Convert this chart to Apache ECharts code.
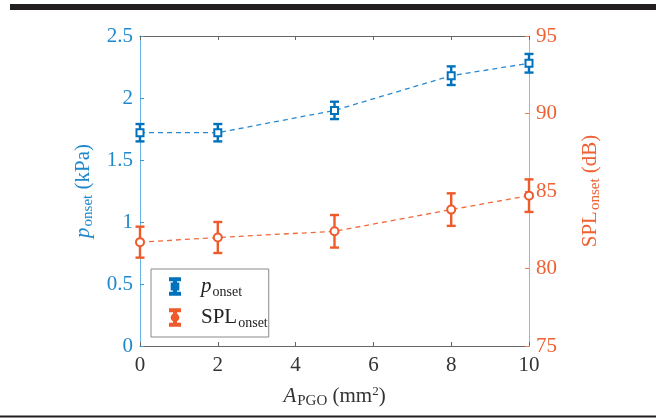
<!DOCTYPE html>
<html>
<head>
<meta charset="utf-8">
<script src="https://cdn.jsdelivr.net/npm/echarts@6/dist/echarts.min.js"></script>
<style>
  html, body { margin: 0; padding: 0; background: #fff; }
  #chart { width: 656px; height: 418px; }
</style>
</head>
<body>
<div id="chart"></div>
<script>
// data
const area = [0, 2, 5, 8, 10]            // A_PGO (mm^2)
const pOnset = [1.72, 1.72, 1.90, 2.18, 2.28]  // kPa
const pErr = [0.07, 0.07, 0.07, 0.075, 0.075]
const splOnset = [81.7, 82.0, 82.4, 83.8, 84.7] // dB
const splErr = [1.0, 1.0, 1.05, 1.05, 1.05]

const BLUE = '#0072bd'
const ORANGE = '#ee5a2a'
const FONT = 'Liberation Serif'

const chart = echarts.init(document.getElementById('chart'))

function errSeries (vals, errs, color, yIndex) {
  return {
    type: 'custom',
    yAxisIndex: yIndex,
    silent: true,
    z: 3,
    data: area.map((x, i) => [x, vals[i] - errs[i], vals[i] + errs[i]]),
    renderItem (params, api) {
      const lo = api.coord([api.value(0), api.value(1)])
      const hi = api.coord([api.value(0), api.value(2)])
      const w = 4.5
      const st = { stroke: color, lineWidth: 2.4 }
      return {
        type: 'group',
        children: [
          { type: 'line', shape: { x1: lo[0], y1: lo[1], x2: hi[0], y2: hi[1] }, style: st },
          { type: 'line', shape: { x1: lo[0] - w, y1: lo[1], x2: lo[0] + w, y2: lo[1] }, style: st },
          { type: 'line', shape: { x1: hi[0] - w, y1: hi[1], x2: hi[0] + w, y2: hi[1] }, style: st }
        ]
      }
    }
  }
}

const iconBar = 'M4,0H16V2.4H4Z M8.8,2.4H11.2V17.6H8.8Z M4,17.6H16V20H4Z '
const iconP = 'path://' + iconBar + 'M6,6.5H14V13.5H6Z'
const iconS = 'path://' + iconBar + 'M10,6A4,4 0 1,1 9.99,6Z'

const richText = {
  i: { fontFamily: FONT, fontStyle: 'italic', fontSize: 21 },
  n: { fontFamily: FONT, fontSize: 21 },
  s: { fontFamily: FONT, fontSize: 15, padding: [10, 0, 0, 1] },
  sup: { fontFamily: FONT, fontSize: 13, padding: [0, 0, 9, 0] }
}
const legendRich = Object.assign({}, richText, {
  s: { fontFamily: FONT, fontSize: 14, padding: [11, 0, 0, 1] }
})

chart.setOption({
  animation: false,
  grid: { left: 140, right: 127, top: 36, bottom: 72 },
  graphic: [
    { type: 'rect', shape: { x: 10, y: 4, width: 646, height: 6 }, style: { fill: '#231f20' } },
    { type: 'rect', shape: { x: 0, y: 415.5, width: 656, height: 2 }, style: { fill: '#231f20' } }
  ],
  legend: {
    left: 151,
    top: 269,
    orient: 'vertical',
    padding: [7, 1, 7, 18],
    itemGap: 8,
    itemWidth: 10,
    itemHeight: 24,
    borderColor: '#8a8a8a',
    borderWidth: 1,
    backgroundColor: '#fff',
    data: [
      { name: 'p', icon: iconP, itemStyle: { color: BLUE } },
      { name: 'SPL', icon: iconS, itemStyle: { color: ORANGE } }
    ],
    formatter (name) {
      return name === 'p' ? '{i|p}{s|onset}' : '{n|SPL}{s|onset}'
    },
    textStyle: { color: '#222', padding: [0, 0, 0, 16], rich: legendRich }
  },
  xAxis: [{
    type: 'value',
    min: 0,
    max: 10,
    interval: 2,
    position: 'bottom',
    axisLine: { onZero: false, lineStyle: { color: '#666', width: 1 } },
    axisTick: { inside: true, length: 4, lineStyle: { color: '#666' } },
    axisLabel: { color: '#333', fontFamily: FONT, fontSize: 21, margin: 9 },
    splitLine: { show: false },
    name: '{i|A}{s|PGO}{n| (mm}{sup|2}{n|)}',
    nameLocation: 'middle',
    nameGap: 38,
    nameTextStyle: { color: '#333', rich: richText }
  }, {
    type: 'value',
    min: 0,
    max: 10,
    interval: 2,
    position: 'top',
    axisLine: { onZero: false, lineStyle: { color: '#666', width: 1 } },
    axisTick: { inside: true, length: 4, lineStyle: { color: '#666' } },
    axisLabel: { show: false },
    splitLine: { show: false }
  }],
  yAxis: [{
    type: 'value',
    min: 0,
    max: 2.5,
    interval: 0.5,
    position: 'left',
    axisLine: { show: true, onZero: false, lineStyle: { color: '#68b6e8', width: 1 } },
    axisTick: { show: true, inside: true, length: 4, lineStyle: { color: '#3a9ad8' } },
    axisLabel: { color: '#1f88cc', fontFamily: FONT, fontSize: 21, margin: 7 },
    splitLine: { show: false },
    name: '{i|p}{s|onset}{n| (kPa)}',
    nameLocation: 'middle',
    nameRotate: 90,
    nameGap: 42,
    nameTextStyle: { color: '#1f88cc', rich: richText }
  }, {
    type: 'value',
    min: 75,
    max: 95,
    interval: 5,
    position: 'right',
    axisLine: { show: true, onZero: false, lineStyle: { color: '#f59a78', width: 1 } },
    axisTick: { show: true, inside: true, length: 4, lineStyle: { color: '#f07a50' } },
    axisLabel: { color: '#ef6033', fontFamily: FONT, fontSize: 21, margin: 7 },
    splitLine: { show: false },
    name: '{n|SPL}{s|onset}{n| (dB)}',
    nameLocation: 'middle',
    nameRotate: 90,
    nameGap: 49,
    nameTextStyle: { color: '#ef6033', rich: richText }
  }],
  series: [
    {
      name: 'p',
      type: 'line',
      yAxisIndex: 0,
      z: 4,
      data: area.map((x, i) => [x, pOnset[i]]),
      lineStyle: { color: '#2a8ad0', width: 1.3, type: [5, 4] },
      symbol: 'emptyRect',
      symbolSize: 7,
      itemStyle: { color: BLUE, borderColor: BLUE, borderWidth: 2 }
    },
    {
      name: 'SPL',
      type: 'line',
      yAxisIndex: 1,
      z: 4,
      data: area.map((x, i) => [x, splOnset[i]]),
      lineStyle: { color: '#f26a3c', width: 1.3, type: [5, 4] },
      symbol: 'emptyCircle',
      symbolSize: 8,
      itemStyle: { color: ORANGE, borderColor: ORANGE, borderWidth: 2 }
    },
    errSeries(pOnset, pErr, BLUE, 0),
    errSeries(splOnset, splErr, ORANGE, 1)
  ]
})
</script>
</body>
</html>
